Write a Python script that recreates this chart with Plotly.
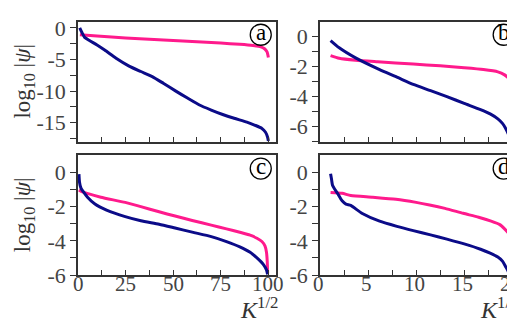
import plotly.graph_objects as go

# ---- data ----
a_blue_x = [0.9, 2.0, 3.5, 6.0, 10.0, 14.0, 20.0, 26.6, 33.0, 39.0, 45.0, 51.4, 57.5, 63.8, 70.0, 76.0, 82.0, 88.7, 93.0, 96.6, 98.5, 99.6, 100.0]
a_blue_y = [0.0, -0.7, -1.5, -2.0, -2.7, -3.5, -4.8, -6.0, -6.9, -7.7, -8.8, -10.0, -11.1, -12.2, -13.0, -13.7, -14.3, -14.9, -15.4, -15.9, -16.5, -17.3, -17.9]
a_pink_x = [1.0, 10.0, 25.0, 40.0, 50.0, 60.0, 75.0, 85.0, 92.0, 96.0, 98.0, 99.3, 100.0]
a_pink_y = [-1.1, -1.3, -1.6, -1.85, -2.0, -2.15, -2.4, -2.6, -2.8, -3.0, -3.3, -3.8, -4.7]

b_blue_x = [1.1, 2.0, 3.7, 6.2, 8.0, 9.7, 11.5, 13.2, 15.0, 16.7, 17.7, 18.5, 19.0, 19.3, 19.6, 19.9]
b_blue_y = [-0.27, -0.75, -1.42, -2.2, -2.7, -3.19, -3.6, -4.0, -4.45, -4.86, -5.15, -5.48, -5.8, -6.1, -6.5, -7.0]
b_pink_x = [1.1, 2.0, 3.7, 6.0, 9.7, 12.5, 15.0, 17.0, 18.5, 19.2, 19.6, 19.8, 19.9]
b_pink_y = [-1.27, -1.45, -1.58, -1.68, -1.83, -1.95, -2.08, -2.2, -2.35, -2.55, -2.77, -3.3, -4.44]

c_blue_x = [0.5, 0.8, 1.5, 2.7, 5.0, 8.9, 15.0, 24.8, 33.0, 42.6, 51.0, 60.0, 70.0, 78.0, 85.0, 90.4, 94.0, 97.5, 99.0, 99.6]
c_blue_y = [-0.1, -0.57, -0.9, -1.11, -1.45, -1.85, -2.2, -2.58, -2.82, -3.03, -3.25, -3.49, -3.75, -4.04, -4.35, -4.67, -5.0, -5.4, -5.7, -5.96]
c_pink_x = [0.5, 2.0, 5.3, 12.0, 24.8, 33.0, 42.6, 51.0, 60.0, 70.0, 78.0, 85.0, 90.4, 94.0, 96.6, 98.2, 99.0, 99.4, 99.6]
c_pink_y = [-1.02, -1.12, -1.24, -1.45, -1.75, -2.0, -2.3, -2.55, -2.81, -3.08, -3.3, -3.5, -3.67, -3.85, -4.04, -4.3, -4.67, -5.2, -5.9]

d_blue_x = [1.1, 1.2, 1.3, 1.5, 1.8, 2.3, 2.7, 3.2, 4.4, 6.2, 8.0, 9.7, 11.5, 13.2, 15.0, 16.7, 17.7, 18.5, 19.0, 19.3, 19.55, 19.7]
d_blue_y = [-0.07, -0.4, -0.75, -0.95, -1.2, -1.66, -1.85, -1.93, -2.4, -2.85, -3.15, -3.4, -3.65, -3.9, -4.18, -4.49, -4.72, -4.95, -5.2, -5.5, -5.75, -5.96]
d_pink_x = [1.1, 2.3, 3.2, 5.5, 7.9, 10.0, 11.4, 13.0, 14.9, 16.5, 17.8, 18.7, 19.2, 19.6, 19.8, 19.9]
d_pink_y = [-1.17, -1.22, -1.35, -1.45, -1.57, -1.75, -1.9, -2.1, -2.39, -2.62, -2.85, -3.05, -3.3, -3.55, -3.76, -4.67]

xk2_vals = [0, 12.5, 25, 37.5, 50, 62.5, 75, 87.5, 100]
xk2_text = ["0", "", "25", "", "50", "", "75", "", "100"]
xk3_vals = [0, 2.5, 5, 7.5, 10, 12.5, 15, 17.5, 20]
xk3_text = ["0", "", "5", "", "10", "", "15", "", "20"]
ya_vals = [0, -2.5, -5, -7.5, -10, -12.5, -15, -17.5]
ya_text = ["0", "", "-5", "", "-10", "", "-15", ""]
yb_vals = [0, -1, -2, -3, -4, -5, -6, -7]
yb_text = ["0", "", "-2", "", "-4", "", "-6", ""]
ycd_vals = [0, -1, -2, -3, -4, -5, -6]
ycd_text = ["0", "", "-2", "", "-4", "", "-6"]

BLUE = "#0b0b88"
PINK = "#ff1a8c"
AX = "#333333"
FONT = "Liberation Serif"
W, H = 515, 330

fig = go.Figure()
panels = [
    ("x", "y", a_blue_x, a_blue_y, a_pink_x, a_pink_y),
    ("x2", "y2", b_blue_x, b_blue_y, b_pink_x, b_pink_y),
    ("x3", "y3", c_blue_x, c_blue_y, c_pink_x, c_pink_y),
    ("x4", "y4", d_blue_x, d_blue_y, d_pink_x, d_pink_y),
]
for xa, ya, bx, by, px, py in panels:
    fig.add_trace(go.Scatter(x=px, y=py, xaxis=xa, yaxis=ya, mode="lines",
                             line=dict(color=PINK, width=3, shape="spline", smoothing=0.6),
                             showlegend=False, hoverinfo="skip"))
    fig.add_trace(go.Scatter(x=bx, y=by, xaxis=xa, yaxis=ya, mode="lines",
                             line=dict(color=BLUE, width=3, shape="spline", smoothing=0.6),
                             showlegend=False, hoverinfo="skip"))

left_dom = [70 / W, 268 / W]
right_dom = [312 / W, 511 / W]
top_dom = [1 - 135.5 / H, 1 - 8 / H]
bot_dom = [1 - 277 / H, 1 - 150 / H]

YFONT = dict(family=FONT, size=22, color="#444")
XFONT = dict(family=FONT, size=21, color="#444")

def xax(dom, rng, vals, anchor):
    return dict(domain=dom, range=rng, tickmode="array", tickvals=vals,
                ticktext=[""] * len(vals),
                ticks="inside", ticklen=5, tickwidth=1.3, tickcolor=AX,
                showline=True, linecolor=AX, linewidth=1.5, mirror=True,
                showgrid=False, zeroline=False, anchor=anchor)

def yax(dom, rng, vals, text, anchor):
    return dict(domain=dom, range=rng, tickmode="array", tickvals=vals, ticktext=text,
                ticks="outside", ticklen=6, tickwidth=1.3, tickcolor=AX,
                showline=True, linecolor=AX, linewidth=1.5, mirror=True,
                showgrid=False, zeroline=False, anchor=anchor, tickfont=YFONT)

fig.update_layout(
    width=W, height=H, margin=dict(l=0, r=0, t=0, b=0),
    paper_bgcolor="white", plot_bgcolor="white",
    xaxis=xax(left_dom, [0, 104], xk2_vals, "y"),
    yaxis=yax(top_dom, [-18, 1], ya_vals, ya_text, "x"),
    xaxis2=xax(right_dom, [0, 20.7], xk3_vals, "y2"),
    yaxis2=yax(top_dom, [-7, 1], yb_vals, yb_text, "x2"),
    xaxis3=xax(left_dom, [0, 104], xk2_vals, "y3"),
    yaxis3=yax(bot_dom, [-6, 1], ycd_vals, ycd_text, "x3"),
    xaxis4=xax(right_dom, [0, 20.7], xk3_vals, "y4"),
    yaxis4=yax(bot_dom, [-6, 1], ycd_vals, ycd_text, "x4"),
)

# x tick labels of the bottom row, placed on the data axes
for xa, ya, vals, texts, xs in [("x3", "y3", xk2_vals, xk2_text, 0), ("x4", "y4", xk3_vals, xk3_text, -2)]:
    for v, t in zip(vals, texts):
        if t:
            fig.add_annotation(text=t, xref=xa, yref=f"{ya} domain", x=v, y=0,
                               xanchor="center", yanchor="top", showarrow=False,
                               font=XFONT, yshift=4, xshift=xs, borderpad=0)

# panel letters in circles
letters = [("x", "y", "a"), ("x2", "y2", "b"), ("x3", "y3", "c"), ("x4", "y4", "d")]
for xa, ya, t in letters:
    cx, cy = 0.923, 0.89
    fig.add_shape(type="circle", xref=f"{xa} domain", yref=f"{ya} domain",
                  xsizemode="pixel", ysizemode="pixel", xanchor=cx, yanchor=cy,
                  x0=-10.5, x1=10.5, y0=-10.5, y1=10.5,
                  line=dict(color="black", width=1.3), fillcolor="rgba(0,0,0,0)")
    fig.add_annotation(text=t, xref=f"{xa} domain", yref=f"{ya} domain",
                       x=cx, y=cy, showarrow=False, xanchor="center", yanchor="middle",
                       font=dict(family=FONT, size=23, color="black"), yshift=2)

# y titles
ytitle = "log<sub>10</sub> |<i>ψ</i>|"
for yc in [(8 + 135.5) / 2, (150 + 277) / 2]:
    fig.add_annotation(text=ytitle, xref="paper", yref="paper", x=16 / W, y=1 - yc / H,
                       showarrow=False, textangle=-90, xanchor="center", yanchor="middle",
                       font=dict(family=FONT, size=23, color="#333"))

# x titles
fig.add_annotation(text="<i>K</i><sup>1/2</sup>", xref="paper", yref="paper",
                   x=272 / W, y=0, xanchor="right", yanchor="bottom", showarrow=False,
                   font=dict(family=FONT, size=24, color="#333"))
fig.add_annotation(text="<i>K</i><sup>1/3</sup>", xref="paper", yref="paper",
                   x=512 / W, y=0, xanchor="right", yanchor="bottom", showarrow=False,
                   font=dict(family=FONT, size=24, color="#333"))

fig.write_html("out.html")
